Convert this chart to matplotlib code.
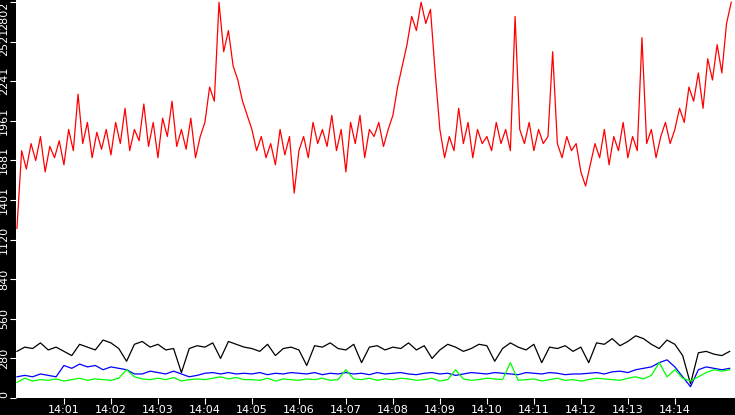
import matplotlib
matplotlib.use("Agg")
import matplotlib.pyplot as plt
import numpy as np

red = [1200,1750,1620,1800,1680,1850,1600,1780,1700,1820,
       1650,1900,1750,2150,1800,1950,1700,1880,1760,1900,
       1720,1950,1800,2050,1750,1900,1820,2080,1780,1950,
       1700,1980,1850,2100,1780,1900,1760,1980,1700,1850,
       1950,2200,2100,2800,2450,2600,2350,2250,2100,2000,
       1900,1750,1850,1700,1800,1650,1900,1720,1850,1450,
       1750,1850,1700,1950,1800,1900,1780,2000,1750,1900,
       1600,1950,1800,2000,1700,1900,1850,1950,1780,1900,
       2000,2200,2350,2500,2700,2600,2800,2650,2750,2300,
       1900,1700,1850,1750,2050,1800,1950,1700,1900,1800,
       1850,1750,1950,1800,1900,1750,2700,1900,1800,1950,
       1750,1900,1800,1850,2450,1800,1700,1850,1750,1800,
       1600,1500,1650,1800,1700,1900,1650,1850,1750,1950,
       1700,1850,1750,2550,1800,1900,1700,1850,1950,1800,
       1900,2050,1950,2200,2100,2300,2050,2400,2250,2500,
       2300,2650,2800]
black = [330,360,350,390,340,360, 330,300,380,360,340,410, 390,350,260,380,400,360,
         380,340,350,180,350,370, 360,390,280,400,380,360, 350,330,380,300,350,360,
         340,230,370,360,390,350, 340,380,250,360,370,340, 360,350,390,340,370,280,
         340,380,360,330,350,380, 370,260,350,390,360,340, 380,250,360,350,370,330,
         360,250,390,380,420,370, 400,440,420,380,350,410, 380,300,100,320,330,310,
         300,330]
blue = [150,160,150,170,160,150, 230,210,240,220,230,200, 220,210,200,170,170,190,
        180,170,190,170,150,160, 175,180,170,180,170,175, 170,180,165,175,170,180,
        175,170,180,165,175,170, 180,170,175,165,180,170, 175,180,170,165,175,180,
        170,175,160,170,180,175, 170,180,175,170,165,180, 175,170,180,175,165,170,
        170,175,180,170,185,190, 180,200,210,220,250,270, 220,150,80,200,220,210,
        200,210]
green = [110,140,120,130,125,135, 120,130,140,125,135,130, 125,140,200,150,135,130,
         140,130,145,120,130,135, 130,140,150,135,145,130, 130,125,140,120,135,130,
         125,135,130,140,125,130, 200,135,130,140,125,135, 130,140,135,125,130,140,
         120,130,200,135,125,130, 140,135,130,250,125,130, 135,120,130,140,125,130,
         120,130,140,135,130,125, 140,150,135,160,250,150, 200,140,120,150,180,200,
         190,200]

t_red = np.arange(len(red)) * 6 / 60.0
t_low = np.arange(len(black)) * 10 / 60.0
xticks = list(range(1, 15))
xlabels = ["14:%02d" % m for m in xticks]
yticks = [0,280,560,840,1120,1401,1681,1961,2241,2521,2802]

fig = plt.figure(figsize=(7.35, 4.15), dpi=100, facecolor="black")
ax = fig.add_axes([16/735, 17/415, 719/735, 398/415])
ax.set_facecolor("white")
ax.plot(t_red, red, color="#ff0000", lw=0.9)
ax.plot(t_low, black, color="black", lw=0.9)
ax.plot(t_low, blue, color="#0000ff", lw=0.9)
ax.plot(t_low, green, color="#00ff00", lw=0.9)
ax.set_xlim(-0.02, 15.28)
ax.set_ylim(0, 2816)
for s in ax.spines.values():
    s.set_visible(False)
ax.set_xticks(xticks)
ax.set_xticklabels(xlabels, color="white", fontsize=8)
ax.set_yticks(yticks)
labs = ax.set_yticklabels([str(v) for v in yticks], color="white", fontsize=8, rotation=90, va="center")
labs[-1].set_va("top")
labs[0].set_va("bottom")
ax.tick_params(colors="white", length=4, pad=1)
fig.savefig("out.png", dpi=100, facecolor="black")
